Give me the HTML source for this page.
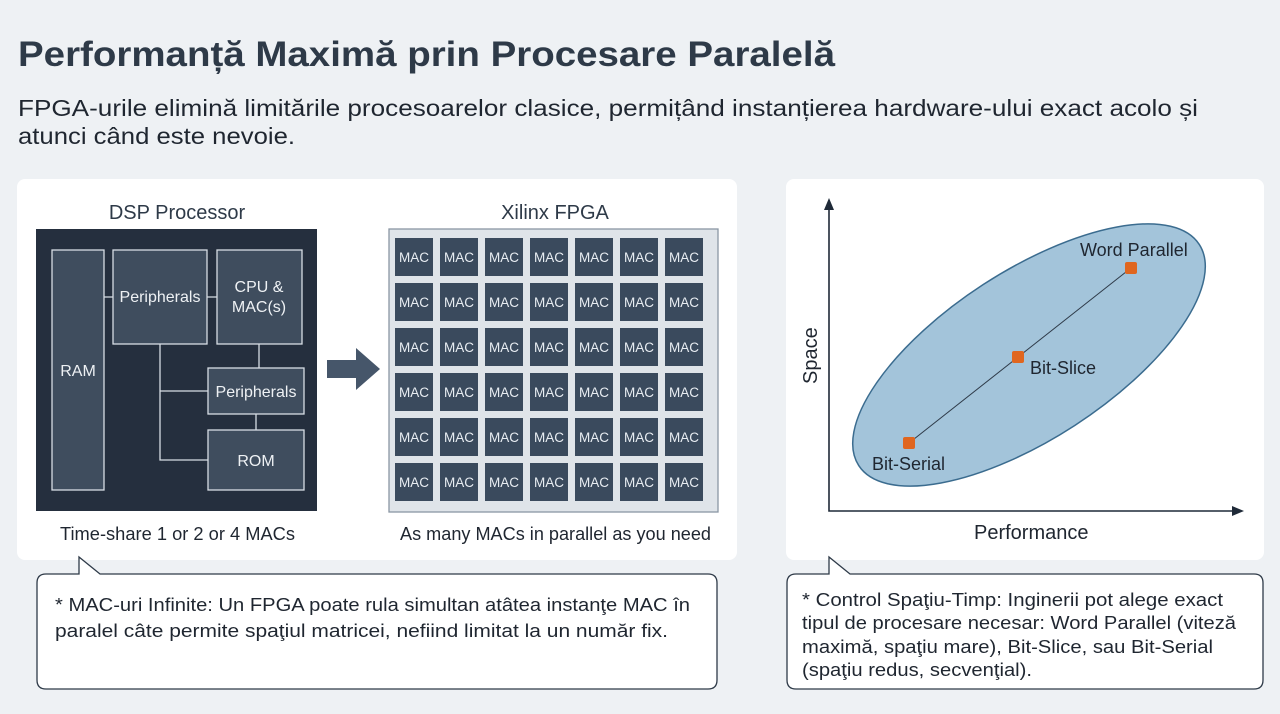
<!DOCTYPE html>
<html><head><meta charset="utf-8"><style>
html,body{margin:0;padding:0;background:#eef1f4;}
svg{display:block;font-family:"Liberation Sans","DejaVu Sans",sans-serif;}
</style></head><body>
<svg width="1280" height="714" viewBox="0 0 1280 714" xmlns="http://www.w3.org/2000/svg">
<rect width="1280" height="714" fill="#eef1f4"/>
<text x="18" y="66" font-size="35" font-weight="bold" fill="#2e3a48" textLength="817" lengthAdjust="spacingAndGlyphs">Performanță Maximă prin Procesare Paralelă</text>
<text x="18" y="116" font-size="23" fill="#1f2630" textLength="1180" lengthAdjust="spacingAndGlyphs">FPGA-urile elimină limitările procesoarelor clasice, permițând instanțierea hardware-ului exact acolo și</text>
<text x="18" y="144" font-size="23" fill="#1f2630" textLength="277" lengthAdjust="spacingAndGlyphs">atunci când este nevoie.</text>

<rect x="17" y="179" width="720" height="381" rx="8" fill="#ffffff"/>
<text x="177" y="219" font-size="20" fill="#2e3a48" text-anchor="middle">DSP Processor</text>
<text x="555" y="219" font-size="20" fill="#2e3a48" text-anchor="middle">Xilinx FPGA</text>
<rect x="36" y="229" width="281" height="282" fill="#252f3e"/>
<g fill="#3f4d5e" stroke="#d7dde4" stroke-width="1.3">
<rect x="52" y="250" width="52" height="240"/>
<rect x="113" y="250" width="94" height="94"/>
<rect x="217" y="250" width="85" height="94"/>
<rect x="208" y="368" width="96" height="46"/>
<rect x="208" y="430" width="96" height="60"/>
</g>
<g stroke="#d7dde4" stroke-width="1.3" fill="none">
<path d="M104 297H113M207 297H217M160 344V460H208M160 391H208M259 344V368M256 414V430"/>
</g>
<g fill="#eef1f4" font-size="16" text-anchor="middle">
<text x="78" y="376">RAM</text>
<text x="160" y="302">Peripherals</text>
<text x="259" y="292">CPU &amp;</text>
<text x="259" y="312">MAC(s)</text>
<text x="256" y="397">Peripherals</text>
<text x="256" y="466">ROM</text>
</g>
<polygon points="327,360 356,360 356,348 380,369 356,390 356,378 327,378" fill="#46566a"/>
<rect x="389" y="229" width="329" height="283" fill="#dfe4e9" stroke="#8a96a3" stroke-width="1.3"/>
<g fill="#3a4a5d"><rect x="395" y="238" width="38" height="38"/><rect x="440" y="238" width="38" height="38"/><rect x="485" y="238" width="38" height="38"/><rect x="530" y="238" width="38" height="38"/><rect x="575" y="238" width="38" height="38"/><rect x="620" y="238" width="38" height="38"/><rect x="665" y="238" width="38" height="38"/>
<rect x="395" y="283" width="38" height="38"/><rect x="440" y="283" width="38" height="38"/><rect x="485" y="283" width="38" height="38"/><rect x="530" y="283" width="38" height="38"/><rect x="575" y="283" width="38" height="38"/><rect x="620" y="283" width="38" height="38"/><rect x="665" y="283" width="38" height="38"/>
<rect x="395" y="328" width="38" height="38"/><rect x="440" y="328" width="38" height="38"/><rect x="485" y="328" width="38" height="38"/><rect x="530" y="328" width="38" height="38"/><rect x="575" y="328" width="38" height="38"/><rect x="620" y="328" width="38" height="38"/><rect x="665" y="328" width="38" height="38"/>
<rect x="395" y="373" width="38" height="38"/><rect x="440" y="373" width="38" height="38"/><rect x="485" y="373" width="38" height="38"/><rect x="530" y="373" width="38" height="38"/><rect x="575" y="373" width="38" height="38"/><rect x="620" y="373" width="38" height="38"/><rect x="665" y="373" width="38" height="38"/>
<rect x="395" y="418" width="38" height="38"/><rect x="440" y="418" width="38" height="38"/><rect x="485" y="418" width="38" height="38"/><rect x="530" y="418" width="38" height="38"/><rect x="575" y="418" width="38" height="38"/><rect x="620" y="418" width="38" height="38"/><rect x="665" y="418" width="38" height="38"/>
<rect x="395" y="463" width="38" height="38"/><rect x="440" y="463" width="38" height="38"/><rect x="485" y="463" width="38" height="38"/><rect x="530" y="463" width="38" height="38"/><rect x="575" y="463" width="38" height="38"/><rect x="620" y="463" width="38" height="38"/><rect x="665" y="463" width="38" height="38"/>
</g>
<g font-size="13.5" fill="#e8edf2" text-anchor="middle">
<text x="414" y="262">MAC</text><text x="459" y="262">MAC</text><text x="504" y="262">MAC</text><text x="549" y="262">MAC</text><text x="594" y="262">MAC</text><text x="639" y="262">MAC</text><text x="684" y="262">MAC</text>
<text x="414" y="307">MAC</text><text x="459" y="307">MAC</text><text x="504" y="307">MAC</text><text x="549" y="307">MAC</text><text x="594" y="307">MAC</text><text x="639" y="307">MAC</text><text x="684" y="307">MAC</text>
<text x="414" y="352">MAC</text><text x="459" y="352">MAC</text><text x="504" y="352">MAC</text><text x="549" y="352">MAC</text><text x="594" y="352">MAC</text><text x="639" y="352">MAC</text><text x="684" y="352">MAC</text>
<text x="414" y="397">MAC</text><text x="459" y="397">MAC</text><text x="504" y="397">MAC</text><text x="549" y="397">MAC</text><text x="594" y="397">MAC</text><text x="639" y="397">MAC</text><text x="684" y="397">MAC</text>
<text x="414" y="442">MAC</text><text x="459" y="442">MAC</text><text x="504" y="442">MAC</text><text x="549" y="442">MAC</text><text x="594" y="442">MAC</text><text x="639" y="442">MAC</text><text x="684" y="442">MAC</text>
<text x="414" y="487">MAC</text><text x="459" y="487">MAC</text><text x="504" y="487">MAC</text><text x="549" y="487">MAC</text><text x="594" y="487">MAC</text><text x="639" y="487">MAC</text><text x="684" y="487">MAC</text>
</g>
<text x="60" y="540" font-size="18" fill="#1f2630" textLength="235" lengthAdjust="spacingAndGlyphs">Time-share 1 or 2 or 4 MACs</text>
<text x="400" y="540" font-size="18" fill="#1f2630" textLength="311" lengthAdjust="spacingAndGlyphs">As many MACs in parallel as you need</text>

<rect x="786" y="179" width="478" height="381" rx="8" fill="#ffffff"/>
<ellipse cx="1029" cy="355" rx="203" ry="84" transform="rotate(-33 1029 355)" fill="#a3c4da" stroke="#3b6c8f" stroke-width="1.5"/>
<line x1="909" y1="443" x2="1131" y2="268" stroke="#2e3a48" stroke-width="1"/>
<g fill="#e0661f">
<rect x="903" y="437" width="12" height="12" rx="2"/>
<rect x="1012" y="351" width="12" height="12" rx="2"/>
<rect x="1125" y="262" width="12" height="12" rx="2"/>
</g>
<g stroke="#1f2a38" stroke-width="1.6" fill="none"><path d="M829 206V511H1236"/></g>
<polygon points="829,198 824,210 834,210" fill="#1f2a38"/>
<polygon points="1244,511 1232,506 1232,516" fill="#1f2a38"/>
<g font-size="18" fill="#1f2630">
<text x="1080" y="256">Word Parallel</text>
<text x="1030" y="374">Bit-Slice</text>
<text x="872" y="470">Bit-Serial</text>
<text x="974" y="539" font-size="20">Performance</text>
<text x="0" y="0" font-size="20" transform="translate(817 384) rotate(-90)">Space</text>
</g>

<path d="M46 574H79V557L100 574H708Q717 574 717 583V680Q717 689 708 689H46Q37 689 37 680V583Q37 574 46 574Z" fill="#ffffff" stroke="#2e3a48" stroke-width="1.3"/>
<text x="55" y="611" font-size="18.5" fill="#1f2630" textLength="635" lengthAdjust="spacingAndGlyphs">* MAC-uri Infinite: Un FPGA poate rula simultan atâtea instanţe MAC în</text>
<text x="55" y="637" font-size="18.5" fill="#1f2630" textLength="613" lengthAdjust="spacingAndGlyphs">paralel câte permite spaţiul matricei, nefiind limitat la un număr fix.</text>

<path d="M796 574H829V557L850 574H1254Q1263 574 1263 583V680Q1263 689 1254 689H796Q787 689 787 680V583Q787 574 796 574Z" fill="#ffffff" stroke="#2e3a48" stroke-width="1.3"/>
<g font-size="18.5" fill="#1f2630">
<text x="802" y="606" textLength="421" lengthAdjust="spacingAndGlyphs">* Control Spaţiu-Timp: Inginerii pot alege exact</text>
<text x="802" y="629" textLength="434" lengthAdjust="spacingAndGlyphs">tipul de procesare necesar: Word Parallel (viteză</text>
<text x="802" y="653" textLength="411" lengthAdjust="spacingAndGlyphs">maximă, spaţiu mare), Bit-Slice, sau Bit-Serial</text>
<text x="802" y="676" textLength="230" lengthAdjust="spacingAndGlyphs">(spaţiu redus, secvenţial).</text>
</g>
</svg>
</body></html>
